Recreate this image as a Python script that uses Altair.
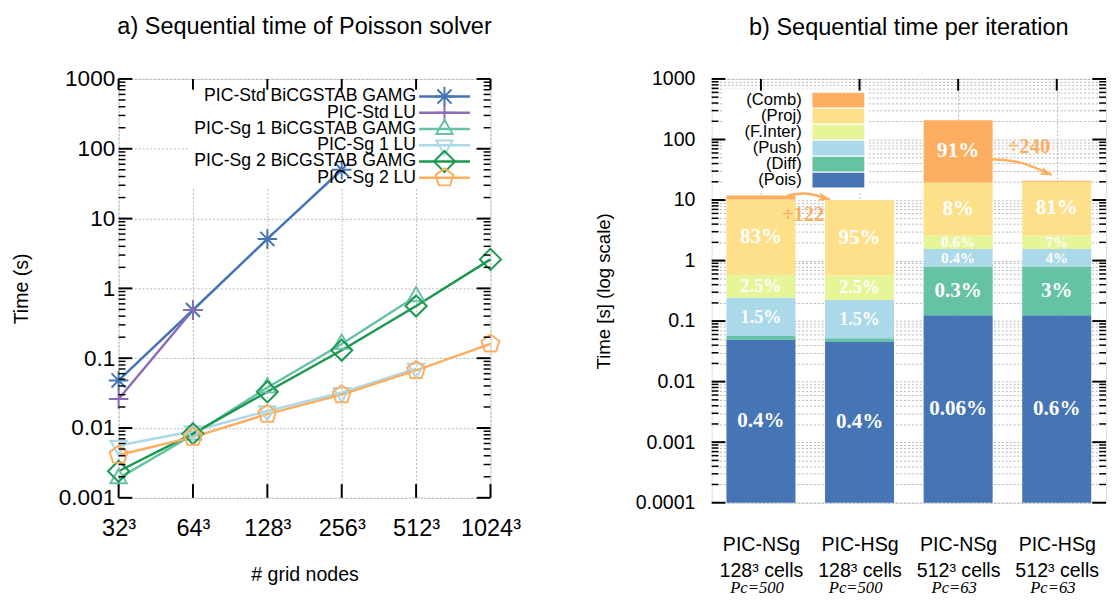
import math
import altair as alt
import pandas as pd

SANS = "Liberation Sans"
SERIF = "Liberation Serif"
GRID = "#b4b4b4"

# ------------------------------------------------------------------ panel a data
grid_labels = ["32³", "64³", "128³", "256³", "512³", "1024³"]
series_names = [
    "PIC-Std BiCGSTAB GAMG",
    "PIC-Std LU",
    "PIC-Sg 1 BiCGSTAB GAMG",
    "PIC-Sg 1 LU",
    "PIC-Sg 2 BiCGSTAB GAMG",
    "PIC-Sg 2 LU",
]
std_gamg = [0.048, 0.49, 5.1, 50.0]
std_lu = [0.026, 0.49]
sg1_gamg = [0.0019, 0.0080, 0.038, 0.16, 0.77]
sg1_lu = [0.0056, 0.0090, 0.0175, 0.032, 0.071]
sg2_gamg = [0.0024, 0.0083, 0.033, 0.13, 0.56, 2.6]
sg2_lu = [0.0041, 0.0074, 0.0158, 0.030, 0.067, 0.16]
series_values = [std_gamg, std_lu, sg1_gamg, sg1_lu, sg2_gamg, sg2_lu]

series_colors = ["#4575b4", "#8e6bb8", "#66c2a5", "#abd9e9", "#1a9850", "#fdae61"]
marker_paths = [
    "M-1.25,0L1.25,0M0,-1.25L0,1.25M-0.9,-0.9L0.9,0.9M-0.9,0.9L0.9,-0.9",
    "M-1.25,0L1.25,0M0,-1.25L0,1.25",
    "M0,-1.2L1.05,0.62L-1.05,0.62Z",
    "M0,1.2L1.05,-0.62L-1.05,-0.62Z",
    "M0,-1.35L1.35,0L0,1.35L-1.35,0Z",
    "M0,-1.2L1.14,-0.37L0.71,0.97L-0.71,0.97L-1.14,-0.37Z",
]

# ------------------------------------------------------------------ panel b data
bar_solver = ["PIC-NSg", "PIC-HSg", "PIC-NSg", "PIC-HSg"]
bar_grid = ["128³ cells", "128³ cells", "512³ cells", "512³ cells"]
bar_pc = ["500", "500", "63", "63"]
components = ["Pois", "Diff", "Push", "F.Inter", "Proj", "Comb"]
comp_colors = ["#4575b4", "#66c2a5", "#abd9e9", "#e6f598", "#fee08b", "#fdae61"]
t_pois = [0.049, 0.045, 0.125, 0.125]
t_diff = [0.008, 0.007, 0.675, 0.675]
t_push = [0.187, 0.172, 0.75, 0.75]
t_finter = [0.336, 0.346, 1.05, 1.05]
t_proj = [9.62, 9.33, 16.8, 17.4]
t_comb = [1.7, 0.014, 187.6, 0.78]
p_pois = ["0.4%", "0.4%", "0.06%", "0.6%"]
p_diff = ["", "", "0.3%", "3%"]
p_push = ["1.5%", "1.5%", "0.4%", "4%"]
p_finter = ["2.5%", "2.5%", "0.6%", "7%"]
p_proj = ["83%", "95%", "8%", "81%"]
p_comb = ["", "", "91%", ""]
ratio_labels = ["÷122", "÷240"]

comp_values = [t_pois, t_diff, t_push, t_finter, t_proj, t_comb]
comp_pcts = [p_pois, p_diff, p_push, p_finter, p_proj, p_comb]


# ------------------------------------------------------------------ helpers
def y_ticks(values, scale, x_from, x_to, width):
    return alt.Chart(pd.DataFrame({"v": values})).mark_rule(
        color="black", strokeWidth=width).encode(
        y=alt.Y("v:Q", scale=scale, axis=None),
        x=alt.value(x_from), x2=alt.value(x_to))


def x_ticks(values, scale, y_from, y_to, width=2):
    return alt.Chart(pd.DataFrame({"v": values})).mark_rule(
        color="black", strokeWidth=width).encode(
        x=alt.X("v:Q", scale=scale, axis=None),
        y=alt.value(y_from), y2=alt.value(y_to))


def title(text, offset):
    return alt.TitleParams(text, font=SANS, fontSize=24, fontWeight="normal",
                           color="black", offset=offset, frame="group")


# ================================================================== panel a
W_A, H_A = 380, 428
rows_a = [dict(series=n, gi=i, t=v)
          for n, vals in zip(series_names, series_values)
          for i, v in enumerate(vals)]
df_a = pd.DataFrame(rows_a)

xa = alt.Scale(domain=[0, len(grid_labels) - 1], nice=False, zero=False)
ya = alt.Scale(type="log", domain=[1e-3, 1e3], nice=False)
dec_a = [10.0 ** e for e in range(-3, 4)]
min_a = [m * 10.0 ** e for e in range(-3, 3) for m in range(2, 10)]
gi_vals = list(range(len(grid_labels)))
xlab_expr = "[" + ",".join("'%s'" % s for s in grid_labels) + "][datum.value]"

color_a = alt.Scale(domain=series_names, range=series_colors)
shape_a = alt.Scale(domain=series_names, range=marker_paths)

base_a = alt.Chart(df_a)

lines_a = base_a.mark_line(strokeWidth=2.5).encode(
    x=alt.X("gi:Q", scale=xa, axis=alt.Axis(
        orient="bottom", values=gi_vals, labelExpr=xlab_expr,
        labelFont=SANS, labelFontSize=24, labelColor="black", labelPadding=20,
        labelOverlap=False, labelFlush=False,
        ticks=False, tickSize=0, domain=False, grid=True, gridDash=[2, 2],
        gridColor=GRID, title="# grid nodes", titleFont=SANS,
        titleFontSize=20, titleFontWeight="normal", titleColor="black",
        titlePadding=25)),
    y=alt.Y("t:Q", scale=ya, axis=alt.Axis(
        orient="left", values=dec_a, format="~g", labelFont=SANS,
        labelFontSize=23, labelColor="black", labelPadding=4, ticks=False,
        labelOverlap=False, labelFlush=False,
        tickSize=0, domain=False, grid=True, gridDash=[2, 2], gridColor=GRID,
        title="Time (s)", titleFont=SANS, titleFontSize=20,
        titleFontWeight="normal", titleColor="black", titlePadding=28)),
    color=alt.Color("series:N", scale=color_a, legend=None),
    detail="series:N",
)

points_a = base_a.mark_point(filled=False, strokeWidth=2, size=256, opacity=1).encode(
    x=alt.X("gi:Q", scale=xa, axis=None),
    y=alt.Y("t:Q", scale=ya, axis=None),
    color=alt.Color("series:N", scale=color_a, legend=None),
    shape=alt.Shape("series:N", scale=shape_a, legend=None),
)

# key (gnuplot style: label, then line sample with marker), opaque box
df_key_a = pd.DataFrame(dict(series=series_names, k=list(range(len(series_names)))))
key_y_a = alt.Y("k:O", scale=alt.Scale(type="point", domain=list(range(len(series_names))),
                                       range=[18, 101], padding=0), axis=None)
key_box_a = alt.Chart(df_key_a).mark_rect(color="white").encode(
    x=alt.value(72), x2=alt.value(364), y=alt.value(6), y2=alt.value(111))
key_line_a = alt.Chart(df_key_a).mark_rule(strokeWidth=2.5).encode(
    x=alt.value(307), x2=alt.value(359), y=key_y_a,
    color=alt.Color("series:N", scale=color_a, legend=None))
key_mark_a = alt.Chart(df_key_a).mark_point(filled=False, strokeWidth=2, size=256, opacity=1).encode(
    x=alt.value(333), y=key_y_a,
    color=alt.Color("series:N", scale=color_a, legend=None),
    shape=alt.Shape("series:N", scale=shape_a, legend=None))
key_text_a = alt.Chart(df_key_a).mark_text(
    align="right", baseline="middle", font=SANS, fontSize=18, color="black"
).encode(x=alt.value(304), y=key_y_a, text="series:N")

ticks_a = [
    y_ticks(dec_a, ya, 0, 14, 2), y_ticks(min_a, ya, 0, 7, 1.5),
    y_ticks(dec_a, ya, W_A, W_A - 14, 2), y_ticks(min_a, ya, W_A, W_A - 7, 1.5),
    x_ticks(gi_vals, xa, H_A, H_A - 14), x_ticks(gi_vals, xa, 0, 11),
]

panel_a = alt.layer(key_box_a, lines_a, points_a, key_line_a, key_mark_a, key_text_a,
                    *ticks_a).resolve_scale(x="shared", y="independent").resolve_axis(
    x="independent", y="independent").properties(
    width=W_A, height=H_A, title=title("a) Sequential time of Poisson solver", 30))

# ================================================================== panel b
W_B, H_B = 403, 433
Y_MIN_B = 1e-4
rows_b = []
totals = []
for b in range(len(bar_solver)):
    cum = 0.0
    for c, vals, pcts in zip(components, comp_values, comp_pcts):
        lo = max(cum, Y_MIN_B)
        cum += vals[b]
        hi = cum
        rows_b.append(dict(bi=b, comp=c, lo=lo, hi=hi, pct=pcts[b],
                           mid=math.sqrt(lo * hi), h=math.log10(hi / lo)))
    totals.append(cum)
df_b = pd.DataFrame(rows_b)

xb = alt.Scale(domain=[-0.5, len(bar_solver) - 0.5], nice=False, zero=False)
yb = alt.Scale(type="log", domain=[Y_MIN_B, 1e3], nice=False)
dec_b = [10.0 ** e for e in range(-4, 4)]
min_b = [m * 10.0 ** e for e in range(-4, 3) for m in range(2, 10)]
bi_vals = list(range(len(bar_solver)))
xb_expr = ("[" + ",".join("['%s','%s']" % (s, g) for s, g in zip(bar_solver, bar_grid))
           + "][datum.value]")
color_b = alt.Scale(domain=components, range=comp_colors)

base_b = alt.Chart(df_b)
bars_b = base_b.transform_calculate(
    x0="datum.bi - 0.35", x1="datum.bi + 0.35"
).mark_rect().encode(
    x=alt.X("x0:Q", scale=xb, axis=alt.Axis(
        orient="bottom", values=bi_vals, labelExpr=xb_expr, labelFont=SANS,
        labelFontSize=20, labelColor="black", labelLineHeight=26,
        labelOverlap=False, labelFlush=False,
        labelPadding=33, ticks=False, tickSize=0, domain=False, grid=True,
        gridDash=[2, 2], gridColor=GRID, title=None)),
    x2="x1:Q",
    y=alt.Y("hi:Q", scale=yb, axis=alt.Axis(
        orient="left", values=dec_b, format="~g", labelFont=SANS,
        labelFontSize=20, labelColor="black", labelPadding=17, ticks=False,
        labelOverlap=False, labelFlush=False,
        tickSize=0, domain=False, grid=True, gridDash=[2, 2], gridColor=GRID,
        title="Time [s] (log scale)", titleFont=SANS, titleFontSize=19,
        titleFontWeight="normal", titleColor="black", titlePadding=22)),
    y2="lo:Q",
    color=alt.Color("comp:N", scale=color_b, legend=None),
)

text_b = base_b.transform_filter("datum.pct != ''").mark_text(
    color="white", font=SERIF, fontWeight="bold", baseline="middle"
).encode(
    x=alt.X("bi:Q", scale=xb, axis=None),
    y=alt.Y("mid:Q", scale=yb, axis=alt.Axis(
        orient="left", values=min_b, labels=False, ticks=False, domain=False,
        grid=True, gridDash=[2, 2], gridColor=GRID, title=None)),
    text="pct:N",
    size=alt.Size("h:Q", scale=alt.Scale(type="threshold", domain=[0.33, 0.75],
                                         range=[15.5, 18.5, 21.5]), legend=None),
)

# annotation arrows anchored on the bar totals
proj_top2 = totals[2] - t_comb[2]
comb_mid2 = math.sqrt(proj_top2 * totals[2])
arrow_pts = [
    (0, 0, 0.27, totals[0]), (0, 1, 0.47, totals[0] * 1.07), (0, 2, 0.70, totals[1] * 1.03),
    (1, 0, 2.27, comb_mid2 * 0.75), (1, 1, 2.62, comb_mid2 * 0.66),
    (1, 2, 2.95, totals[3] * 1.25),
]
df_arrow = pd.DataFrame(arrow_pts, columns=["aid", "k", "ax", "ay"])
heads = []
for aid in (0, 1):
    pts = [p for p in arrow_pts if p[0] == aid]
    (_, _, x1, y1), (_, _, x2, y2) = pts[-2], pts[-1]
    dxp = (x2 - x1) * W_B / 4.0
    dyp = (math.log10(y1) - math.log10(y2)) * H_B / 7.0
    heads.append(dict(ax=x2, ay=y2, ang=(90 + math.degrees(math.atan2(dyp, dxp))) % 360))
df_head = pd.DataFrame(heads)
df_ratio = pd.DataFrame(dict(tx=[0.43, 2.72],
                             ty=[totals[1] * 0.56, totals[2] * 0.36],
                             label=ratio_labels))

arrows_b = alt.Chart(df_arrow).mark_line(
    color="#fdae61", strokeWidth=2.5, interpolate="natural"
).encode(
    x=alt.X("ax:Q", scale=xb, axis=None),
    y=alt.Y("ay:Q", scale=yb, axis=None),
    detail="aid:N", order="k:Q",
)
heads_b = alt.Chart(df_head).mark_point(
    shape="M0,0L0.7,1.9L0,1.4L-0.7,1.9Z", filled=True, color="#fdae61",
    size=160, opacity=1
).encode(
    x=alt.X("ax:Q", scale=xb, axis=None),
    y=alt.Y("ay:Q", scale=yb, axis=None),
    angle=alt.Angle("ang:Q", scale=None),
)
ratio_b = alt.Chart(df_ratio).mark_text(
    color="#fdae61", font=SERIF, fontWeight="bold", fontSize=21, baseline="middle"
).encode(
    x=alt.X("tx:Q", scale=xb, axis=None),
    y=alt.Y("ty:Q", scale=yb, axis=None),
    text="label:N",
)
df_pc = pd.DataFrame(dict(bi=bi_vals, pc=["Pc=" + p for p in bar_pc]))
pc_b = alt.Chart(df_pc).mark_text(
    font=SERIF, fontStyle="italic", fontSize=17, color="black",
    baseline="middle", dx=-4
).encode(
    x=alt.X("bi:Q", scale=xb, axis=None),
    y=alt.value(H_B + 87),
    text="pc:N",
)

# key: label then colour swatch, top entry = last component
key_order = components[::-1]
df_key_b = pd.DataFrame(dict(comp=key_order, k=list(range(len(key_order)))))
key_scale_b = alt.Scale(type="band", domain=list(range(len(key_order))),
                        range=[14, 111], paddingInner=0.07, paddingOuter=0)
key_box_b = alt.Chart(df_key_b).mark_rect(color="white").encode(
    x=alt.value(12), x2=alt.value(160), y=alt.value(11), y2=alt.value(115))
key_sw_b = alt.Chart(df_key_b).mark_rect().encode(
    x=alt.value(103), x2=alt.value(156),
    y=alt.Y("k:O", scale=key_scale_b, axis=None),
    color=alt.Color("comp:N", scale=color_b, legend=None))
key_text_b = alt.Chart(df_key_b).transform_calculate(
    lab="'(' + datum.comp + ')'"
).mark_text(align="right", baseline="middle", font=SANS, fontSize=17, color="black").encode(
    x=alt.value(92),
    y=alt.Y("k:O", scale=key_scale_b, axis=None, bandPosition=0.5),
    text="lab:N")

ticks_b = [
    y_ticks(dec_b, yb, 0, 14, 2), y_ticks(min_b, yb, 0, 7, 1.5),
    y_ticks(dec_b, yb, W_B, W_B - 14, 2), y_ticks(min_b, yb, W_B, W_B - 7, 1.5),
    x_ticks(bi_vals, xb, 0, 12),
]

panel_b = alt.layer(bars_b, text_b, key_box_b, key_sw_b, key_text_b,
                    arrows_b, heads_b, ratio_b, pc_b, *ticks_b).resolve_scale(
    x="shared", y="independent").resolve_axis(x="independent", y="independent").properties(
    width=W_B, height=H_B, title=title("b) Sequential time per iteration", 30))

chart = alt.hconcat(panel_a, panel_b, spacing=74).resolve_scale(
    color="independent", shape="independent", x="independent", y="independent",
    size="independent", angle="independent"
).properties(
    padding={"left": 2, "top": 0, "right": 0, "bottom": 0}
).configure_view(stroke="black", strokeWidth=2).configure(background="white")

chart.save("out.html", embed_options={"renderer": "svg", "actions": False})
